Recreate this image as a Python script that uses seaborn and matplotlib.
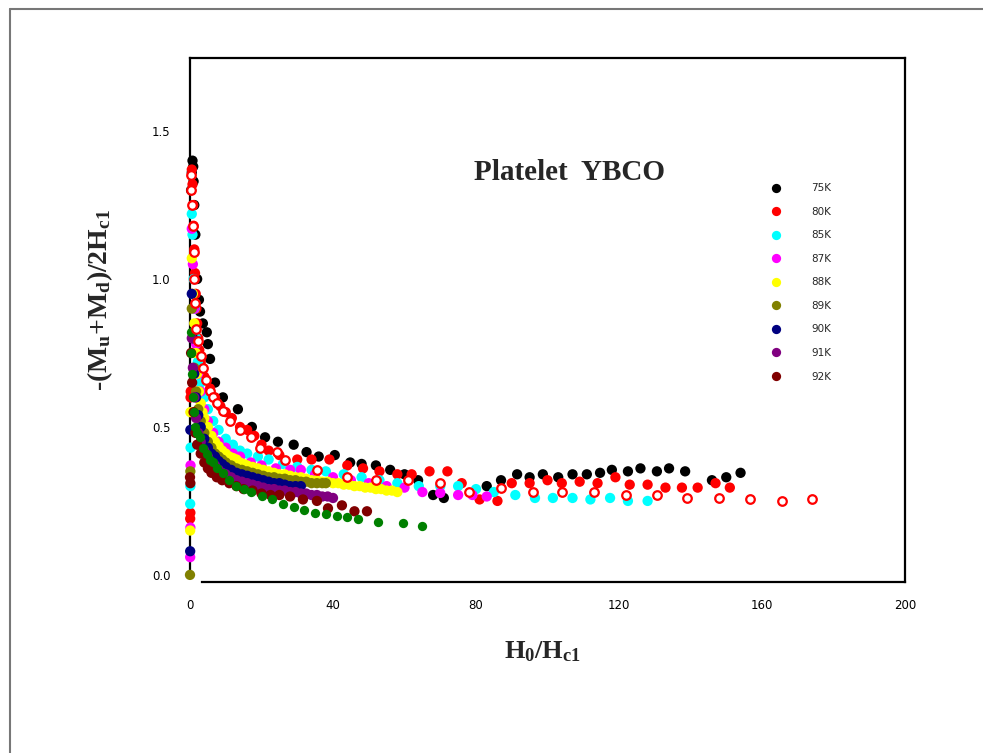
import numpy as np
import pandas as pd
import matplotlib
matplotlib.use("Agg")
import matplotlib.pyplot as plt
import seaborn as sns
from matplotlib.lines import Line2D

# ---------------- data ----------------
labels = ["75K", "80K", "85K", "87K", "88K", "89K", "90K", "91K", "92K"]
colors = ["#000000", "#ff0000", "#00ffff", "#ff00ff", "#ffff00",
          "#808000", "#000080", "#800080", "#800000"]

x_75 = [0.3, 0.5, 0.7, 0.9, 1.0, 1.2, 1.5, 2.0, 2.5, 2.8, 3.6, 4.7, 5.0, 5.6, 7.0, 9.2, 13.4, 17.3,
        21, 24.6, 29, 32.6, 36, 40.5, 44.8, 48, 52, 56, 60, 63.8, 68, 71, 83, 87, 91.5, 95, 98.7,
        103, 107, 111, 114.7, 118, 122.5, 126, 130.6, 134, 138.5, 146, 150, 154]
y_75 = [1.30, 1.36, 1.40, 1.38, 1.33, 1.25, 1.15, 1.00, 0.93, 0.89, 0.85, 0.82, 0.78, 0.73, 0.65, 0.60,
        0.56, 0.50, 0.465, 0.45, 0.44, 0.415, 0.40, 0.405, 0.38, 0.375, 0.37, 0.355, 0.34, 0.32, 0.27,
        0.26, 0.30, 0.32, 0.34, 0.33, 0.34, 0.33, 0.34, 0.34, 0.345, 0.355, 0.35, 0.36, 0.35, 0.36,
        0.35, 0.32, 0.33, 0.345]

x_80 = [0.05, 0.1, 0.15, 0.2, 0.5, 0.7, 0.9, 1.0, 1.2, 1.4, 1.6, 1.8, 2.0, 2.3, 2.6, 3.0, 3.5, 4.0,
        4.5, 5.6, 7, 8.5, 10, 11.7, 14, 16, 18, 20, 22, 25, 30, 34, 39, 44, 48.4, 53, 58, 62, 67, 72,
        76, 81, 86, 90, 95, 100, 104, 109, 114, 119, 123, 128, 133, 137.6, 142, 147, 151]
y_80 = [0.19, 0.21, 0.60, 0.62, 1.37, 1.32, 1.25, 1.18, 1.10, 1.02, 0.95, 0.90, 0.85, 0.80, 0.76,
        0.72, 0.70, 0.67, 0.66, 0.63, 0.60, 0.57, 0.55, 0.53, 0.50, 0.49, 0.47, 0.44, 0.42, 0.405,
        0.39, 0.39, 0.39, 0.37, 0.36, 0.35, 0.34, 0.34, 0.35, 0.35, 0.31, 0.255, 0.25, 0.31, 0.31,
        0.32, 0.31, 0.315, 0.31, 0.33, 0.305, 0.305, 0.295, 0.295, 0.295, 0.31, 0.295]

x_80open = [0.2, 0.4, 0.6, 0.8, 1.0, 1.2, 1.4, 1.8, 2.3, 3.0, 3.7, 4.5, 5.6, 6.5, 7.5, 9.2, 11.2, 14,
            17, 19.6, 24.3, 26.6, 35.5, 44, 52, 61, 70, 78, 87, 96, 104, 113, 122, 130.6, 139, 148,
            156.6, 165.6, 174]
y_80open = [1.35, 1.30, 1.25, 1.18, 1.09, 1.00, 0.92, 0.83, 0.79, 0.74, 0.70, 0.66, 0.62, 0.60, 0.58,
            0.555, 0.52, 0.49, 0.465, 0.43, 0.415, 0.39, 0.355, 0.33, 0.32, 0.32, 0.31, 0.28, 0.295,
            0.28, 0.28, 0.28, 0.27, 0.27, 0.26, 0.26, 0.255, 0.25, 0.255]

x_85 = [0.05, 0.1, 0.15, 0.5, 0.7, 1.0, 1.3, 1.7, 2.2, 3, 4, 5, 6.5, 8, 10, 12, 14, 16, 19, 22, 26, 30,
        34, 38, 43, 48, 53, 58, 64, 70, 75, 80, 85, 91, 96.5, 101.5, 107, 112, 117.5, 122.5, 128]
y_85 = [0.24, 0.30, 0.43, 1.22, 1.15, 1.00, 0.90, 0.80, 0.72, 0.65, 0.60, 0.56, 0.52, 0.49, 0.46, 0.44,
        0.42, 0.41, 0.40, 0.39, 0.375, 0.365, 0.355, 0.35, 0.34, 0.33, 0.32, 0.31, 0.30, 0.30, 0.30,
        0.29, 0.28, 0.27, 0.26, 0.26, 0.26, 0.255, 0.26, 0.25, 0.25]

x_87 = [0.05, 0.1, 0.15, 0.5, 0.8, 1.2, 1.7, 2.3, 3, 4, 5, 6.5, 8, 10, 12, 14, 17, 20, 24, 28, 31, 35,
        40, 45, 50, 55, 60, 65, 70, 75, 79, 83]
y_87 = [0.06, 0.16, 0.37, 1.17, 1.05, 0.90, 0.78, 0.68, 0.62, 0.56, 0.52, 0.48, 0.45, 0.43, 0.41,
        0.40, 0.38, 0.37, 0.36, 0.355, 0.355, 0.34, 0.33, 0.32, 0.31, 0.30, 0.295, 0.28, 0.277, 0.27,
        0.27, 0.265]

x_88 = [0.05, 0.1, 0.5, 0.8, 1.2, 1.6, 2, 2.5, 3, 3.5, 4, 5, 6, 7, 8, 9, 10, 11, 12, 13, 14, 15, 16,
        17.5, 19, 20.5, 22, 23.5, 25, 26.5, 28, 29.5, 31, 32.5, 34, 35.5, 37, 38.5, 40, 41.5, 43, 44.5,
        46, 47.5, 49, 50.5, 52, 53.5, 55, 56.5, 58]
y_88 = [0.15, 0.55, 1.07, 0.95, 0.85, 0.75, 0.68, 0.62, 0.58, 0.55, 0.53, 0.50, 0.47, 0.45, 0.435,
        0.42, 0.41, 0.40, 0.395, 0.39, 0.38, 0.375, 0.37, 0.365, 0.36, 0.355, 0.35, 0.345, 0.34, 0.34,
        0.335, 0.33, 0.33, 0.325, 0.32, 0.32, 0.315, 0.315, 0.31, 0.31, 0.305, 0.305, 0.30, 0.30,
        0.295, 0.295, 0.29, 0.29, 0.285, 0.285, 0.28]

x_89 = [0.0, 0.1, 0.5, 0.8, 1.2, 1.7, 2.3, 3, 4, 5, 6, 7, 8, 9, 10, 11.5, 13, 14.5, 16, 17.5, 19, 20.5,
        22, 23.5, 25, 26.5, 28, 29.5, 31, 32.5, 34, 35.5, 37, 38]
y_89 = [0.0, 0.35, 0.90, 0.80, 0.70, 0.62, 0.56, 0.52, 0.48, 0.45, 0.43, 0.41, 0.40, 0.39, 0.38, 0.37,
        0.36, 0.355, 0.35, 0.345, 0.34, 0.335, 0.33, 0.33, 0.325, 0.325, 0.32, 0.32, 0.315, 0.315,
        0.31, 0.31, 0.31, 0.31]

x_90 = [0.05, 0.1, 0.5, 0.8, 1.2, 1.7, 2.3, 3, 4, 5, 6, 7, 8, 9, 10, 11.5, 13, 14.5, 16, 17.5, 19,
        20.5, 22, 23.5, 25, 26.5, 28, 29.5, 31]
y_90 = [0.08, 0.49, 0.95, 0.80, 0.68, 0.60, 0.54, 0.50, 0.46, 0.43, 0.41, 0.40, 0.385, 0.375, 0.365,
        0.355, 0.345, 0.34, 0.335, 0.33, 0.325, 0.32, 0.315, 0.31, 0.31, 0.305, 0.30, 0.30, 0.30]

x_91 = [0.5, 0.8, 1.2, 1.7, 2.3, 3, 4, 5, 6, 7, 8, 9, 10, 11.5, 13, 14.5, 16, 17.5, 19, 20.5, 22,
        23.5, 25, 26.5, 28, 29.5, 31, 32.5, 34, 35.5, 37, 38.5, 40]
y_91 = [0.80, 0.70, 0.60, 0.53, 0.48, 0.45, 0.42, 0.40, 0.38, 0.37, 0.355, 0.345, 0.34, 0.33, 0.32,
        0.315, 0.31, 0.305, 0.30, 0.295, 0.29, 0.29, 0.285, 0.285, 0.28, 0.28, 0.275, 0.275, 0.27,
        0.27, 0.265, 0.265, 0.26]

x_92 = [0.0, 0.1, 0.3, 0.6, 1, 1.5, 2, 3, 4, 5, 6, 7.5, 9, 11, 13, 15, 17.5, 20, 22.5, 25, 28, 31.6,
        35.5, 38.6, 42.5, 46, 49.5]
y_92 = [0.33, 0.31, 0.75, 0.65, 0.55, 0.48, 0.44, 0.41, 0.38, 0.36, 0.345, 0.33, 0.32, 0.31, 0.30,
        0.29, 0.285, 0.275, 0.27, 0.27, 0.265, 0.255, 0.25, 0.225, 0.235, 0.215, 0.215]

x_green = [0.2, 0.3, 0.5, 0.7, 1.0, 1.5, 2, 2.8, 3.5, 4.7, 5.5, 6.4, 7.5, 9.2, 11, 13, 15, 17, 20, 23,
           26, 29, 32, 35, 38, 41, 44, 47, 52.5, 59.6, 65]
y_green = [0.82, 0.75, 0.68, 0.60, 0.55, 0.50, 0.48, 0.465, 0.43, 0.41, 0.39, 0.38, 0.36, 0.345, 0.32,
           0.30, 0.29, 0.28, 0.265, 0.255, 0.24, 0.23, 0.22, 0.21, 0.205, 0.20, 0.195, 0.19, 0.18,
           0.177, 0.165]

xs = [x_75, x_80, x_85, x_87, x_88, x_89, x_90, x_91, x_92]
ys = [y_75, y_80, y_85, y_87, y_88, y_89, y_90, y_91, y_92]

frames = [pd.DataFrame({"H": x, "M": y, "T": lab}) for x, y, lab in zip(xs, ys, labels)]
df = pd.concat(frames, ignore_index=True)
df_open = pd.DataFrame({"H": x_80open, "M": y_80open})
df_green = pd.DataFrame({"H": x_green, "M": y_green})

# ---------------- figure ----------------
sns.set_style("white")
plt.rcParams["font.family"] = ["DejaVu Sans"]
plt.rcParams["mathtext.fontset"] = "custom"
plt.rcParams["mathtext.rm"] = "Liberation Serif:bold"
plt.rcParams["mathtext.it"] = "Liberation Serif:bold"
plt.rcParams["mathtext.bf"] = "Liberation Serif:bold"

W, H = 983, 753
fig = plt.figure(figsize=(W / 100, H / 100), dpi=100)
ax = fig.add_axes([190 / W, 1 - 582 / H, (905 - 190) / W, (582 - 58) / H])

palette = dict(zip(labels, colors))
sns.scatterplot(data=df, x="H", y="M", hue="T", hue_order=labels, palette=palette,
                s=55, linewidth=0, marker="o", ax=ax, legend=True, zorder=3)
sns.scatterplot(data=df_green, x="H", y="M", color="#008000", s=45, linewidth=0,
                marker="o", ax=ax, legend=False, zorder=4)
ax.scatter(df_open["H"], df_open["M"], s=38, facecolors="white", edgecolors="#ff0000",
           linewidths=1.6, zorder=5)
for c in ax.collections:
    c.set_clip_on(False)

ax.set_xlim(0, 200)
ax.set_ylim(-0.024, 1.747)
ax.set_xticks([0, 40, 80, 120, 160, 200])
ax.set_xticks([20, 60, 100, 140, 180], minor=True)
ax.set_yticks([0.0, 0.5, 1.0, 1.5])
ax.set_yticklabels(["0.0", "0.5", "1.0", "1.5"])
ax.tick_params(axis="both", which="both", direction="in", labelsize=8.5,
               colors="black", width=1.2)
ax.tick_params(axis="x", which="major", length=6, pad=12)
ax.tick_params(axis="x", which="minor", length=4)
ax.tick_params(axis="y", which="major", length=6, pad=14)
ax.xaxis.get_major_ticks()[0].tick1line.set_visible(False)

for sp in ax.spines.values():
    sp.set_visible(True)
    sp.set_color("black")
    sp.set_linewidth(1.6)
ax.spines["left"].set_bounds(0, 1.747)
ax.spines["bottom"].set_bounds(3.4, 200)

ax.set_xlabel("")
ax.set_ylabel("")
fig.text(543 / W, 1 - 652 / H, r"H$_0$/H$_{c1}$", ha="center", va="center",
         fontsize=19, fontweight="bold", family="Liberation Serif")
fig.text(100 / W, 1 - 300 / H, r"-(M$_u$+M$_d$)/2H$_{c1}$", ha="center", va="center",
         rotation=90, fontsize=20, fontweight="bold", family="Liberation Serif")
fig.text(569 / W, 1 - 173 / H, "Platelet  YBCO", ha="center", va="center",
         fontsize=21, fontweight="bold", family="Liberation Serif")

leg = ax.legend(loc="upper left", bbox_to_anchor=(760 / W, 1 - 178 / H),
                bbox_transform=fig.transFigure, frameon=False, fontsize=7.5,
                labelspacing=1.3, handletextpad=2.4, markerscale=0.9, borderpad=0)
for h in leg.legend_handles:
    h.set_linewidth(0)

# outer frame
fig.add_artist(Line2D([10 / W, 1], [1 - 9 / H, 1 - 9 / H], transform=fig.transFigure,
                      color="#777777", lw=1.5))
fig.add_artist(Line2D([10 / W, 10 / W], [0, 1 - 9 / H], transform=fig.transFigure,
                      color="#777777", lw=1.5))

fig.savefig("out.png", dpi=100, facecolor="white")
